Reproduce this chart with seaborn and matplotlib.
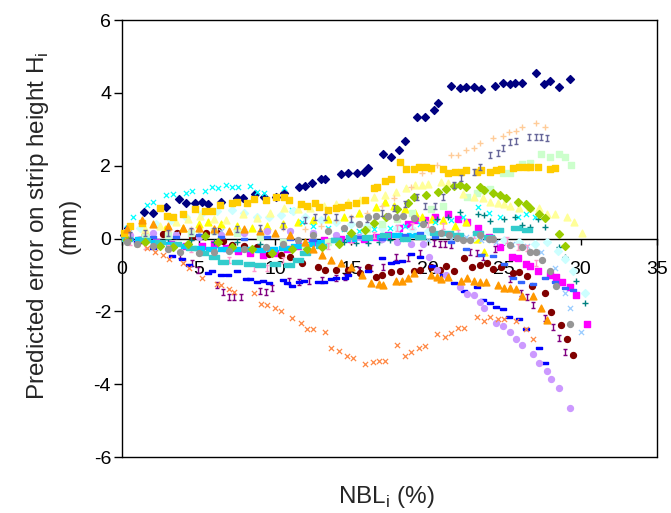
import matplotlib
matplotlib.use("Agg")
import matplotlib.pyplot as plt
import seaborn as sns
from matplotlib.path import Path

# ---- data (x = NBLi %, y = error mm) ----
navy_x = [0.1, 0.4, 1.4, 2.0, 2.9, 3.7, 4.2, 4.8, 5.2, 5.6, 6.5, 7.5, 7.9, 8.7, 9.3, 10.1, 10.6, 11.6, 12.0, 12.4,
          13.0, 13.3, 14.3, 14.8, 15.4, 15.8, 16.1, 17.1, 17.6, 18.1, 18.5, 19.3, 19.8, 20.4, 20.7, 21.5, 22.1,
          22.5, 23.0, 23.5, 24.4, 24.9, 25.4, 25.7, 26.2, 27.1, 27.6, 28.0, 28.6, 29.3]
navy_y = [0.1, 0.3, 0.73, 0.7, 0.87, 1.09, 0.98, 0.98, 1.0, 0.95, 1.0, 1.11, 1.11, 1.22, 1.14, 1.14, 1.25, 1.41, 1.44,
          1.52, 1.63, 1.63, 1.77, 1.8, 1.8, 1.83, 1.94, 2.32, 2.24, 2.43, 2.68, 3.34, 3.34, 3.53, 3.72, 4.19, 4.13,
          4.16, 4.16, 4.11, 4.19, 4.27, 4.24, 4.27, 4.27, 4.55, 4.24, 4.33, 4.16, 4.38]

magenta_x = [0.3, 1.2, 2.2, 3.2, 4.2, 5.2, 6.0, 6.8, 7.6, 8.4, 9.2, 10.0, 10.8, 11.6, 12.4, 13.2, 14.3, 15.0, 15.8,
             16.6, 17.4, 18.1, 18.7, 19.2, 19.8, 20.5, 21.3, 22.0, 22.6, 23.3, 24.0, 24.7, 25.5, 25.9, 26.4, 26.7,
             27.2, 28.0, 28.4, 28.8, 29.3, 29.7, 30.4]
magenta_y = [0.05, -0.05, -0.1, -0.15, -0.2, -0.2, -0.15, -0.25, -0.35, -0.4, -0.45, -0.4, -0.3, -0.2, -0.1, -0.05,
             0.0, 0.0, 0.0, 0.05, 0.1, 0.29, 0.4, 0.5, 0.5, 0.59, 0.67, 0.55, 0.45, 0.29, 0.05, -0.23, -0.51, -0.54,
             -0.7, -0.76, -0.89, -1.0, -1.06, -1.19, -1.33, -1.55, -2.35]

yellow_x = [0.3, 1.5, 2.8, 4.0, 5.0, 5.6, 6.5, 7.5, 8.5, 9.5, 10.5, 11.5, 12.5, 13.5, 14.5, 15.5, 16.6, 17.2, 17.8,
            18.5, 19.2, 19.6, 20.3, 21.0, 21.8, 22.5, 23.2, 23.7]
yellow_y = [0.1, 0.2, 0.25, 0.3, 0.4, 0.45, 0.4, 0.35, 0.3, 0.35, 0.4, 0.45, 0.5, 0.55, 0.6, 0.7, 0.87, 1.0, 0.9,
            0.8, 0.7, 0.6, 0.55, 0.5, 0.35, 0.45, 0.0, -0.37]

cyan_x = [0.3, 0.7, 1.6, 2.0, 2.9, 3.3, 4.2, 4.6, 5.4, 5.9, 6.3, 6.8, 7.2, 7.6, 8.4, 8.8, 9.3, 10.6, 11.1, 11.8,
          12.5, 13.5, 14.5, 15.5, 16.5, 17.5, 18.5, 19.5, 20.5, 21.5, 22.3, 23.3, 24.0, 24.7, 25.9, 26.4, 27.0]
cyan_y = [0.3, 0.59, 0.92, 1.0, 1.19, 1.22, 1.25, 1.3, 1.3, 1.41, 1.39, 1.47, 1.41, 1.41, 1.44, 1.28, 1.25, 1.39,
          0.78, 0.45, 0.35, 0.3, 0.25, 0.2, 0.25, 0.3, 0.35, 0.4, 0.45, 0.5, 0.6, 0.87, 0.7, 0.6, 0.59, 0.67, 0.6]

purple_x = [0.3, 1.2, 2.2, 3.0, 3.8, 4.55, 4.95, 6.2, 6.6, 7.0, 7.35, 7.8, 9.0, 9.4, 9.8, 10.9, 11.6, 12.2, 13.1,
            14.0, 14.6, 15.5, 16.3, 17.1, 17.9, 18.7, 19.5, 20.4, 20.8, 21.1, 21.5, 22.8, 23.2, 23.6, 24.4, 25.4,
            26.1, 26.5, 26.9, 27.7, 28.2, 28.6, 29.0]
purple_y = [0.0, -0.05, -0.15, -0.25, -0.45, -0.67, -0.87, -1.28, -1.47, -1.61, -1.61, -1.61, -1.44, -1.47, -1.36,
            -1.17, -1.2, -1.17, -1.14, -1.09, -1.06, -0.87, -0.81, -0.78, -0.51, -0.54, -0.4, -0.12, -0.15, -0.15,
            -0.18, -0.37, -0.4, -0.51, -0.29, -1.11, -1.5, -1.61, -1.83, -2.18, -2.43, -2.73, -3.12]

maroon_x = [0.3, 1.5, 2.7, 3.6, 4.55, 5.5, 6.3, 6.6, 7.2, 8.0, 8.8, 9.6, 10.4, 11.0, 11.8, 12.8, 13.3, 14.0, 14.8,
            15.6, 16.1, 16.6, 17.0, 17.6, 18.2, 19.1, 19.5, 20.2, 20.8, 21.2, 21.7, 22.4, 22.9, 23.4, 23.9, 24.3,
            24.8, 25.6, 26.0, 26.5, 26.8, 27.7, 28.1, 28.7, 29.1, 29.5]
maroon_y = [0.05, 0.1, 0.12, 0.15, 0.04, 0.15, 0.2, -0.07, -0.18, -0.2, -0.23, -0.43, -0.45, -0.5, -0.67, -0.78,
            -0.87, -0.87, -0.87, -0.95, -0.78, -1.06, -1.0, -0.92, -0.89, -0.89, -0.87, -0.78, -0.87, -0.76, -0.89,
            -0.54, -0.78, -0.73, -0.67, -0.84, -0.78, -0.95, -0.92, -1.03, -1.3, -1.5, -2.02, -2.38, -2.76, -3.2]

teal_x = [0.3, 1.5, 3.0, 4.5, 6.0, 7.5, 9.0, 10.5, 12.0, 13.5, 14.5, 15.3, 16.1, 16.8, 17.5, 18.2, 19.0, 19.8, 20.6,
          21.3, 22.1, 23.3, 23.7, 24.1, 25.0, 25.7, 26.2, 26.7, 27.2, 27.7, 28.6, 29.0, 29.7, 30.3]
teal_y = [0.1, 0.05, 0.0, -0.05, -0.1, -0.1, -0.15, -0.15, -0.2, -0.15, -0.1, -0.12, -0.12, -0.1, -0.05, 0.1, 0.3,
          0.45, 0.55, 0.6, 0.73, 0.67, 0.65, 0.48, 0.55, 0.59, 0.37, 0.32, 0.54, 0.32, -0.23, -0.51, -1.17, -1.77]

blue_x = [0.3, 1.0, 2.0, 3.25, 3.9, 4.4, 5.6, 5.9, 6.5, 6.9, 7.5, 8.1, 8.4, 8.8, 9.2, 9.6, 10.5, 10.8, 11.1, 11.6,
          11.9, 12.8, 13.2, 13.7, 14.0, 14.6, 14.8, 16.1, 17.0, 17.6, 17.9, 18.3, 18.9, 19.5, 20.3, 21.0, 21.7, 22.4,
          23.2, 23.6, 24.1, 24.5, 24.9, 25.3, 26.0, 26.4, 27.3, 27.7]
blue_y = [0.0, -0.1, -0.25, -0.48, -0.56, -0.73, -0.95, -0.89, -1.0, -1.0, -0.89, -1.11, -1.11, -1.2, -1.17, -1.22,
          -1.14, -1.22, -1.3, -1.2, -1.17, -1.2, -1.2, -1.11, -1.09, -1.09, -1.0, -0.89, -0.54, -0.67, -0.65, -0.62,
          -0.43, -0.51, -0.75, -1.0, -1.22, -1.44, -1.33, -1.69, -1.77, -1.88, -1.94, -2.16, -2.21, -2.49, -3.0, -3.42]

sky_x = [0.3, 1.2, 2.2, 3.2, 4.2, 5.0, 5.8, 6.6, 7.4, 8.2, 9.0, 9.8, 10.6, 11.4, 12.2, 13.0, 14.0, 15.0, 16.0, 17.0,
         18.0, 19.0]
sky_y = [0.05, 0.0, -0.1, -0.15, -0.2, -0.25, -0.3, -0.3, -0.28, -0.3, -0.32, -0.3, -0.25, -0.2, -0.15, -0.1, -0.05,
         0.0, 0.02, 0.05, 0.1, 0.1]

ltturq_x = [0.3, 1.2, 2.2, 3.2, 4.2, 5.2, 6.2, 7.2, 8.0, 8.8, 9.6, 10.4, 11.2, 12.0, 13.0, 14.0, 15.0, 16.0, 17.0,
            18.0, 19.0, 20.0, 21.0, 22.0, 23.0, 24.0, 25.0, 26.0, 27.0, 27.8, 28.5, 29.0, 29.5, 30.3]
ltturq_y = [0.2, 0.3, 0.4, 0.5, 0.6, 0.7, 0.75, 0.78, 0.7, 0.6, 0.6, 0.65, 0.75, 0.6, 0.5, 0.45, 0.4, 0.35, 0.3, 0.3,
            0.25, 0.2, 0.15, 0.1, 0.05, 0.0, -0.05, -0.1, -0.15, -0.1, -0.35, -0.55, -0.9, -1.5]

ltgreen_x = [0.3, 1.5, 3.0, 4.5, 6.0, 7.5, 9.0, 10.5, 12.0, 13.5, 15.0, 16.0, 17.0, 18.0, 19.0, 20.2, 21.0, 22.6,
             23.2, 23.6, 24.1, 24.9, 25.4, 26.2, 26.7, 27.4, 28.0, 28.6, 29.0, 29.4]
ltgreen_y = [0.05, 0.1, 0.1, 0.15, 0.2, 0.15, 0.05, -0.1, -0.2, -0.1, 0.1, 0.25, 0.4, 0.55, 0.7, 0.81, 0.9, 1.14,
             1.25, 1.33, 1.36, 1.8, 1.8, 2.05, 2.07, 2.32, 2.24, 2.32, 2.24, 2.02]

ltyellow_x = [0.3, 1.5, 2.5, 3.5, 4.3, 5.1, 6.0, 6.8, 7.9, 8.8, 9.7, 10.6, 11.5, 12.3, 13.2, 14.0, 14.8, 15.6, 16.5,
              17.2, 17.9, 18.6, 19.2, 19.6, 20.0, 20.9, 21.3, 22.3, 23.0, 23.6, 24.1, 24.6, 25.0, 25.4, 26.0, 26.7,
              27.3, 27.8, 28.3, 29.1, 29.6, 30.1]
ltyellow_y = [0.15, 0.25, 0.35, 0.45, 0.55, 0.62, 0.55, 0.5, 0.67, 0.56, 0.7, 0.84, 0.8, 0.85, 0.9, 0.95, 1.0, 1.05,
              1.14, 1.2, 1.28, 1.4, 1.47, 1.47, 1.5, 1.55, 1.52, 1.22, 1.15, 1.11, 1.0, 0.98, 0.95, 0.89, 0.84, 0.87,
              0.84, 0.67, 0.67, 0.59, 0.45, 0.15]

paleblue_x = [0.5, 2.0, 3.5, 5.0, 6.5, 8.0, 9.5, 11.0, 12.5, 14.0, 15.5, 17.0, 18.5, 20.0, 21.5, 22.5, 23.5, 24.5,
              25.5, 26.5, 27.4, 28.3, 29.0, 29.3, 30.0]
paleblue_y = [0.05, 0.1, 0.12, 0.15, 0.2, 0.2, 0.22, 0.2, 0.15, 0.1, 0.1, 0.05, 0.0, -0.05, 0.0, 0.05, -0.05, -0.1,
              -0.15, -0.2, -0.37, -0.8, -1.5, -1.91, -2.57]

rose_x = [0.5, 1.5, 3.0, 4.5, 6.0, 7.0, 8.6, 9.5, 10.5, 12.0, 13.5, 15.0, 16.5, 18.0, 19.0, 20.0, 21.0, 22.0, 23.0,
          24.3, 25.2, 25.9, 26.5, 27.1]
rose_y = [-0.1, -0.2, -0.25, -0.3, -0.4, -0.6, -0.8, -0.8, -0.6, -0.3, -0.2, -0.05, 0.1, 0.3, 0.35, 0.4, 0.35, 0.15,
          0.1, 0.0, -0.05, -0.23, -0.25, -0.67]

lavender_x = [0.5, 2.0, 3.5, 5.0, 6.5, 8.0, 9.5, 11.0, 12.5, 14.0, 15.5, 17.0, 18.0, 18.9, 19.7, 20.1, 20.6, 21.2,
              22.1, 22.6, 23.0, 23.4, 23.7, 24.5, 24.9, 25.4, 25.8, 26.2, 26.9, 27.3, 27.8, 28.1, 28.6, 29.3]
lavender_y = [0.1, 0.15, 0.1, 0.05, 0.1, 0.15, 0.2, 0.2, 0.15, 0.1, 0.05, 0.0, -0.1, -0.15, -0.15, -0.5, -0.87, -1.0,
              -1.33, -1.52, -1.55, -1.74, -1.91, -2.32, -2.4, -2.57, -2.76, -2.93, -3.17, -3.42, -3.64, -3.86, -4.1,
              -4.66]

tan_x = [0.3, 1.5, 3.0, 4.5, 6.0, 7.5, 9.0, 10.5, 12.0, 13.0, 14.0, 15.0, 16.0, 17.0, 17.8, 18.9, 19.6, 20.2, 20.6,
         21.5, 22.0, 22.5, 23.0, 23.4, 24.3, 24.9, 25.3, 25.8, 26.2, 27.1, 27.7]
tan_y = [0.1, 0.15, 0.2, 0.25, 0.3, 0.25, 0.2, 0.3, 0.25, 0.35, 0.5, 0.6, 0.7, 0.9, 1.11, 1.41, 1.8, 1.85, 2.02,
         2.29, 2.29, 2.43, 2.49, 2.62, 2.76, 2.82, 2.93, 2.95, 3.06, 3.17, 3.06]

royal_x = [0.5, 2.0, 3.5, 5.0, 6.5, 8.0, 9.5, 11.0, 12.5, 14.0, 15.5, 17.0, 18.5, 19.5, 20.5, 21.5, 22.5, 23.5, 24.3,
           25.0, 25.6, 26.1, 26.9, 27.7, 28.3, 29.0, 29.5]
royal_y = [0.0, 0.05, 0.05, 0.1, 0.05, 0.0, 0.05, 0.0, -0.05, 0.0, 0.05, 0.0, 0.1, 0.15, 0.05, -0.1, -0.3, -0.45,
           -0.48, -0.7, -1.08, -1.2, -1.25, -1.08, -1.2, -1.36, -1.41]

aqua_x = [0.3, 1.5, 2.5, 3.5, 4.5, 5.3, 6.0, 6.6, 7.5, 8.3, 9.0, 10.0, 10.9, 11.5, 12.0, 13.0, 14.0, 15.0, 16.0,
          17.2, 18.5, 19.5, 20.5, 21.3, 22.0, 23.3, 24.0, 24.6, 25.8, 26.5]
aqua_y = [0.0, -0.05, -0.1, -0.15, -0.25, -0.4, -0.5, -0.65, -0.65, -0.7, -0.73, -0.7, -0.73, -0.6, -0.4, -0.2,
          -0.05, 0.05, 0.05, 0.1, 0.0, 0.05, 0.15, 0.15, 0.1, 0.15, 0.05, 0.23, 0.3, 0.23]

lime_x = [0.3, 1.5, 2.5, 3.3, 4.3, 5.4, 6.3, 7.2, 8.5, 9.8, 11.1, 12.1, 13.1, 14.2, 15.0, 15.9, 16.5, 17.3, 18.0,
          18.7, 19.1, 19.9, 20.7, 21.2, 21.7, 22.1, 22.5, 23.4, 23.7, 24.3, 24.7, 25.1, 25.9, 26.4, 26.7, 27.3, 27.7,
          28.6, 29.0]
lime_y = [-0.05, -0.1, -0.2, -0.23, -0.15, 0.07, -0.1, -0.23, -0.3, -0.4, -0.29, -0.3, -0.23, -0.15, 0.15, 0.23,
          0.43, 0.6, 0.8, 0.98, 1.14, 1.19, 1.28, 1.36, 1.44, 1.47, 1.41, 1.41, 1.33, 1.25, 1.19, 1.11, 1.0, 0.95,
          0.84, 0.67, 0.56, 0.12, -0.21]

gold_x = [0.1, 0.52, 1.3, 2.47, 2.93, 3.3, 3.97, 4.8, 5.4, 5.9, 6.4, 7.2, 7.5, 8.2, 8.65, 9.4, 10.1, 10.6, 10.9, 11.7,
          12.1, 12.6, 12.9, 13.5, 14.0, 14.3, 14.8, 15.3, 15.9, 16.5, 16.7, 17.2, 17.6, 18.2, 18.6, 19.1, 19.4, 19.9,
          20.2, 21.0, 21.3, 21.8, 22.2, 22.5, 23.2, 23.5, 24.1, 24.5, 24.8, 25.6, 26.0, 26.4, 26.7, 27.2, 28.0, 28.3]
gold_y = [0.15, 0.34, 0.43, 0.84, 0.62, 0.59, 0.67, 0.81, 0.76, 0.76, 0.92, 0.98, 1.0, 0.98, 1.09, 1.06, 1.14, 1.14,
          1.06, 0.95, 0.89, 0.98, 0.87, 0.78, 0.84, 0.87, 0.92, 0.98, 1.06, 1.39, 1.41, 1.58, 1.63, 2.1, 1.91, 1.91,
          1.96, 1.96, 1.94, 1.91, 1.8, 1.83, 1.83, 1.88, 1.83, 1.88, 1.83, 1.88, 1.91, 1.94, 1.96, 1.96, 1.96, 1.96,
          1.91, 1.94]

ltorange_x = [0.3, 1.3, 2.0, 3.0, 4.0, 5.0, 6.0, 7.0, 8.0, 9.0, 10.0, 11.0, 12.0, 12.5, 13.1, 13.7, 14.3, 15.0, 15.7,
              16.3, 16.8, 17.1, 17.9, 18.3, 18.7, 19.1, 20.2, 20.6, 20.9, 21.3, 22.2, 22.6, 23.0, 23.4, 23.8, 24.6,
              25.0, 25.4, 25.8, 26.2, 26.9, 27.4, 27.8]
ltorange_y = [0.25, 0.5, 0.4, 0.35, 0.3, 0.28, 0.25, 0.2, 0.25, 0.2, 0.15, 0.1, -0.1, -0.3, -0.45, -0.59, -0.67,
              -0.78, -1.0, -1.22, -1.25, -1.28, -1.17, -1.17, -1.09, -0.95, -1.0, -1.06, -1.11, -1.06, -1.17, -1.09,
              -1.17, -1.2, -1.2, -1.28, -1.36, -1.36, -1.39, -1.58, -1.58, -1.91, -2.24]

orange_x = [0.3, 1.0, 1.6, 2.15, 2.7, 3.1, 4.0, 4.4, 5.2, 6.2, 6.5, 7.0, 7.3, 8.6, 9.1, 9.5, 10.0, 10.4, 11.1, 11.7,
            12.1, 12.5, 13.3, 13.7, 14.2, 14.7, 15.1, 15.9, 16.4, 16.8, 17.2, 18.0, 18.5, 18.9, 19.4, 19.8, 20.6,
            21.1, 21.5, 22.0, 22.4, 23.2, 23.7, 24.1, 24.6, 25.0, 25.8, 26.4, 26.9]
orange_y = [-0.05, -0.15, -0.25, -0.37, -0.45, -0.56, -0.67, -0.81, -1.09, -1.25, -1.28, -1.39, -1.47, -1.5, -1.8,
            -1.83, -1.91, -1.99, -2.18, -2.32, -2.49, -2.49, -2.57, -3.01, -3.09, -3.23, -3.28, -3.45, -3.39, -3.37,
            -3.37, -2.93, -3.23, -3.12, -3.01, -2.95, -2.62, -2.71, -2.6, -2.46, -2.46, -2.16, -2.27, -2.16, -2.21,
            -2.21, -2.27, -2.49, -2.76]

slate_x = [0.5, 1.5, 3.0, 4.5, 6.0, 7.5, 9.0, 10.5, 12.0, 12.6, 13.3, 14.0, 15.0, 16.0, 17.0, 17.8, 18.5, 19.3, 19.8,
           20.5, 21.0, 21.7, 22.2, 23.0, 23.4, 24.1, 24.6, 24.9, 25.4, 25.8, 26.6, 27.1, 27.4, 27.8]
slate_y = [0.1, 0.15, 0.15, 0.2, 0.2, 0.25, 0.3, 0.35, 0.5, 0.6, 0.6, 0.6, 0.55, 0.55, 0.7, 0.85, 0.95, 1.14, 0.89,
           0.89, 1.14, 1.47, 1.66, 1.83, 1.96, 2.29, 2.35, 2.49, 2.65, 2.68, 2.79, 2.79, 2.79, 2.76]

gray_x = [0.3, 1.0, 2.0, 3.0, 3.8, 5.0, 6.0, 7.0, 8.0, 9.4, 10.5, 11.5, 12.5, 13.5, 14.5, 15.5, 16.1, 16.6, 17.4,
          17.9, 18.4, 19.1, 19.7, 20.3, 20.9, 21.4, 21.9, 22.3, 22.8, 23.4, 24.0, 24.3, 25.4, 26.2, 26.7, 27.1, 27.5,
          28.0, 28.4, 29.3]
gray_y = [-0.1, -0.15, -0.2, -0.3, -0.37, -0.4, -0.38, -0.35, -0.3, -0.23, -0.15, -0.05, 0.1, 0.2, 0.3, 0.4, 0.6,
          0.63, 0.63, 0.59, 0.63, 0.56, 0.4, 0.25, 0.15, 0.1, 0.02, -0.04, -0.04, 0.1, 0.0, -0.01, -0.18, -0.23, -0.37,
          -0.37, -0.59, -0.89, -1.3, -2.35]

y_ticks = [-6, -4, -2, 0, 2, 4, 6]
x_ticks = [0, 5, 10, 15, 20, 25, 30, 35]

# Excel-like marker shapes
star_m = Path([(-0.6, 1), (0.6, 1), (0, 1), (0, -1), (-0.6, -1), (0.6, -1)],
              [Path.MOVETO, Path.LINETO, Path.MOVETO, Path.LINETO, Path.MOVETO, Path.LINETO])
dash_m = [(-1, -0.45), (1, -0.45), (1, 0.45), (-1, 0.45), (-1, -0.45)]
long_m = [(-1, -0.28), (1, -0.28), (1, 0.28), (-1, 0.28), (-1, -0.28)]

series = [
    (navy_x, navy_y, "#000080", "D", 16),
    (magenta_x, magenta_y, "#FF00FF", "s", 18),
    (yellow_x, yellow_y, "#FFFF00", "^", 24),
    (cyan_x, cyan_y, "#00FFFF", "x", 14),
    (purple_x, purple_y, "#800080", star_m, 16),
    (maroon_x, maroon_y, "#800000", "o", 18),
    (teal_x, teal_y, "#008080", "+", 20),
    (blue_x, blue_y, "#0000FF", dash_m, 22),
    (sky_x, sky_y, "#00CCFF", long_m, 60),
    (ltturq_x, ltturq_y, "#CCFFFF", "D", 16),
    (ltgreen_x, ltgreen_y, "#CCFFCC", "s", 18),
    (ltyellow_x, ltyellow_y, "#FFFF99", "^", 24),
    (paleblue_x, paleblue_y, "#99CCFF", "x", 14),
    (rose_x, rose_y, "#FF99CC", star_m, 16),
    (lavender_x, lavender_y, "#CC99FF", "o", 18),
    (tan_x, tan_y, "#FFCC99", "+", 20),
    (royal_x, royal_y, "#3366FF", dash_m, 22),
    (aqua_x, aqua_y, "#33CCCC", long_m, 60),
    (lime_x, lime_y, "#99CC00", "D", 16),
    (gold_x, gold_y, "#FFCC00", "s", 18),
    (ltorange_x, ltorange_y, "#FF9900", "^", 24),
    (orange_x, orange_y, "#FF8844", "x", 14),
    (slate_x, slate_y, "#666699", star_m, 16),
    (gray_x, gray_y, "#969696", "o", 18),
]

sns.set_style("white")
plt.rcParams["font.family"] = ["Liberation Sans", "DejaVu Sans"]
plt.rcParams["mathtext.fontset"] = "custom"
plt.rcParams["mathtext.rm"] = "Liberation Sans"
plt.rcParams["axes.unicode_minus"] = False

fig = plt.figure(figsize=(6.71, 5.13), dpi=100)
ax = fig.add_axes([0.182, 0.109, 0.797, 0.852])

for xs, ys, col, mk, sz in series:
    lw = 0.9 if mk == "x" else 1.0
    sns.scatterplot(x=xs, y=ys, color=col, marker=mk, s=sz, edgecolor=col,
                    linewidth=lw, ax=ax, legend=False, zorder=3, clip_on=False)

ax.set_xlim(0, 35)
ax.set_ylim(-6, 6)
ax.set_xticks(x_ticks)
ax.set_yticks(y_ticks)

# x axis crosses at y = 0, box around the plot area
ax.spines["bottom"].set_position(("data", 0))
for side in ["left", "bottom", "top", "right"]:
    ax.spines[side].set_color("black")
    ax.spines[side].set_linewidth(1.0)
ax.axhline(-6, color="black", linewidth=1.0, clip_on=False, zorder=1)

ax.tick_params(axis="x", direction="out", length=4.5, width=1, pad=12, labelsize=14, colors="black")
ax.tick_params(axis="y", direction="out", length=6, width=1, pad=2, labelsize=14, colors="black")
ax.tick_params(left=True, bottom=True)

ax.set_ylabel("Predicted error on strip height H$_\\mathregular{i}$\n(mm)", fontsize=17.5, linespacing=1.45)
ax.yaxis.set_label_coords(-0.078, 0.53)
ax.set_xlabel("NBL$_\\mathregular{i}$ (%)", fontsize=17.5)
ax.xaxis.set_label_coords(0.495, -0.062)

fig.savefig("out.png", dpi=100)
